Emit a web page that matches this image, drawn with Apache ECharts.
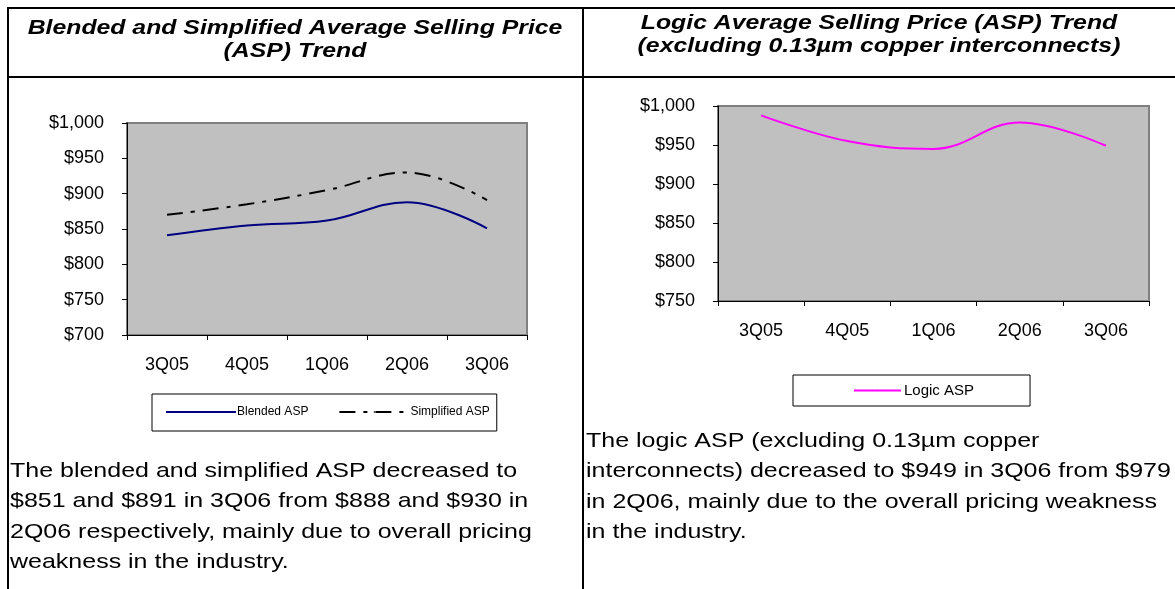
<!DOCTYPE html>
<html>
<head>
<meta charset="utf-8">
<script src="https://cdn.jsdelivr.net/npm/echarts@6/dist/echarts.min.js"></script>
<style>
  html, body { margin: 0; padding: 0; background: #fff; }
  #main { width: 1175px; height: 589px; }
</style>
</head>
<body>
<div id="main"></div>
<script>
// quarters on the x axis (both charts)
const quarters = ['3Q05', '4Q05', '1Q06', '2Q06', '3Q06']

// left chart, US$ per wafer
const blendedAsp = [841, 855, 862, 888, 851]
const simplifiedAsp = [870, 885, 905, 930, 891]

// right chart
const logicAsp = [988, 955, 945, 979, 949]

const titleLeft = ['Blended and Simplified Average Selling Price', '(ASP) Trend']
const titleRight = ['Logic Average Selling Price (ASP) Trend', '(excluding 0.13µm copper interconnects)']

const textLeft = [
	'The blended and simplified ASP decreased to',
	'$851 and $891 in 3Q06 from $888 and $930 in',
	'2Q06 respectively, mainly due to overall pricing',
	'weakness in the industry.'
]
const textRight = [
	'The logic ASP (excluding 0.13µm copper',
	'interconnects) decreased to $949 in 3Q06 from $979',
	'in 2Q06, mainly due to the overall pricing weakness',
	'in the industry.'
]

const FONT = 'Liberation Sans, Arial, sans-serif'
const chart = echarts.init(document.getElementById('main'))

const dollar = v => '$' + v.toLocaleString('en-US')

const yAxisBase = {
	type: 'value',
	interval: 50,
	axisLine: { show: true, lineStyle: { color: '#000', width: 1 } },
	axisTick: { show: true, length: 5, lineStyle: { color: '#000' } },
	splitLine: { show: false },
	axisLabel: { fontSize: 18, color: '#000', fontFamily: FONT, margin: 23, formatter: dollar }
}
const xAxisBase = {
	type: 'category',
	data: quarters,
	boundaryGap: true,
	axisLine: { show: true, lineStyle: { color: '#000', width: 1 } },
	axisTick: { show: true, length: 5, lineStyle: { color: '#000' } },
	axisLabel: { fontSize: 18, color: '#000', fontFamily: FONT, margin: 21 }
}

// paragraph text, slightly stretched like the source
const paraText = (lines, x, y0, step) => lines.map((t, i) => ({
	type: 'text', x: x, y: y0 + i * step, scaleX: 1.19,
	style: { text: t, fill: '#000', font: '21px ' + FONT, textAlign: 'left', textVerticalAlign: 'middle' }
}))

const titleText = (lines, cx, y0, step) => lines.map((t, i) => ({
	type: 'text', x: cx, y: y0 + i * step, scaleX: 1.24,
	style: { text: t, fill: '#000', font: 'italic bold 20px ' + FONT, textAlign: 'center', textVerticalAlign: 'middle' }
}))

const option = {
	animation: false,
	backgroundColor: '#fff',
	grid: [
		{ left: 127, top: 123, width: 400, height: 212, show: true, backgroundColor: '#c0c0c0', borderColor: '#808080', borderWidth: 2 },
		{ left: 718, top: 106, width: 431, height: 195, show: true, backgroundColor: '#c0c0c0', borderColor: '#808080', borderWidth: 2 }
	],
	xAxis: [
		Object.assign({}, xAxisBase, { gridIndex: 0 }),
		Object.assign({}, xAxisBase, { gridIndex: 1 })
	],
	yAxis: [
		Object.assign({}, yAxisBase, { gridIndex: 0, min: 700, max: 1000 }),
		Object.assign({}, yAxisBase, { gridIndex: 1, min: 750, max: 1000 })
	],
	legend: [
		{
			data: ['Blended ASP', 'Simplified ASP'],
			left: 152, top: 394,
			padding: [12, 7, 13, 13],
			borderColor: '#000', borderWidth: 1,
			itemWidth: 70, itemHeight: 2, itemGap: 30,
			textStyle: { fontSize: 12, color: '#000', fontFamily: FONT, padding: [0, 0, 0, -4] }
		},
		{
			data: ['Logic ASP'],
			left: 793, top: 375,
			padding: [8, 56, 8, 60],
			borderColor: '#000', borderWidth: 1,
			itemWidth: 47, itemHeight: 2,
			textStyle: { fontSize: 15, color: '#000', fontFamily: FONT, padding: [0, 0, 0, -2] }
		}
	],
	series: [
		{
			name: 'Blended ASP', type: 'line', xAxisIndex: 0, yAxisIndex: 0,
			data: blendedAsp, smooth: 0.4, symbol: 'none',
			lineStyle: { color: '#000080', width: 2 },
			itemStyle: { color: '#000080' }
		},
		{
			name: 'Simplified ASP', type: 'line', xAxisIndex: 0, yAxisIndex: 0,
			data: simplifiedAsp, smooth: 0.4, symbol: 'none',
			lineStyle: { color: '#000', width: 2, type: [16, 8, 4, 8] },
			itemStyle: { color: '#000' }
		},
		{
			name: 'Logic ASP', type: 'line', xAxisIndex: 1, yAxisIndex: 1,
			data: logicAsp, smooth: 0.4, symbol: 'none',
			lineStyle: { color: '#ff00ff', width: 2 },
			itemStyle: { color: '#ff00ff' }
		}
	],
	graphic: [
		// table rules
		{ type: 'line', shape: { x1: 8, y1: 8, x2: 1175, y2: 8 }, style: { stroke: '#000', lineWidth: 2 } },
		{ type: 'line', shape: { x1: 8, y1: 77, x2: 1175, y2: 77 }, style: { stroke: '#000', lineWidth: 2 } },
		{ type: 'line', shape: { x1: 8, y1: 7, x2: 8, y2: 589 }, style: { stroke: '#000', lineWidth: 2 } },
		{ type: 'line', shape: { x1: 583, y1: 7, x2: 583, y2: 589 }, style: { stroke: '#000', lineWidth: 2 } },
		...titleText(titleLeft, 295, 28, 23),
		...titleText(titleRight, 879, 23, 23),
		...paraText(textLeft, 10, 471, 30.5),
		...paraText(textRight, 586, 441, 30.5)
	]
}

chart.setOption(option)
</script>
</body>
</html>
